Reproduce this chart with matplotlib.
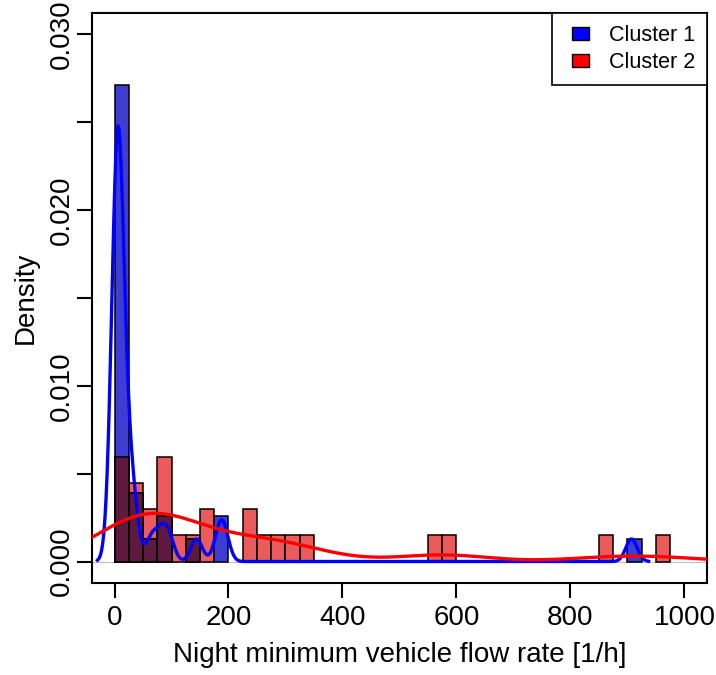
import numpy as np
import matplotlib
matplotlib.use("Agg")
import matplotlib.pyplot as plt
from matplotlib.patches import Patch, Rectangle
from matplotlib.legend_handler import HandlerPatch

plt.rcParams["font.family"] = ["Liberation Sans", "DejaVu Sans"]

# ---- data: night minimum vehicle flow rates [1/h] per cluster ----
cluster1_values = [0, 1, 2, 2, 3, 3, 4, 4, 5, 5, 6, 6, 7, 7, 8, 9, 10, 11, 13, 15, 18,
                   28, 30, 34, 65, 82, 95, 144, 184, 192, 907]
cluster2_values = [5, 10, 15, 20, 30, 38, 45, 58, 68, 78, 85, 90, 95, 110, 138,
                   160, 168, 235, 245, 262, 288, 312, 338, 562, 588, 862, 962]
bin_edges = list(range(0, 1001, 25))
bandwidth_cluster1 = 10.0
bandwidth_cluster2 = 78.0
legend_labels = ["Cluster 1", "Cluster 2"]
x_ticks = [0, 200, 400, 600, 800, 1000]
y_ticks = [0.000, 0.005, 0.010, 0.015, 0.020, 0.025, 0.030]
y_tick_labels = ["0.000", "", "0.010", "", "0.020", "", "0.030"]

# colours
col_blue_bar = "#3d3dd3"
col_red_bar = "#ec5b5b"
col_overlap = "#5e1a3e"


def gaussian_density(values, bw, n=512, cut=3):
    v = np.asarray(values, float)
    grid = np.linspace(v.min() - cut * bw, v.max() + cut * bw, n)
    z = (grid[:, None] - v[None, :]) / bw
    dens = np.exp(-0.5 * z ** 2).sum(axis=1) / (len(v) * bw * np.sqrt(2 * np.pi))
    return grid, dens


h1, _ = np.histogram(cluster1_values, bins=bin_edges, density=True)
h2, _ = np.histogram(cluster2_values, bins=bin_edges, density=True)
lefts = np.array(bin_edges[:-1], float)
width = 25.0
overlap = np.minimum(h1, h2)

fig = plt.figure(figsize=(7.16, 6.75), dpi=100)
ax = fig.add_axes([91.7 / 716, 1 - 582.6 / 675, (707.3 - 91.7) / 716, (582.6 - 13.3) / 675])

ax.axhline(0, color="#bebebe", lw=0.8, zorder=1)

m2 = h2 > 0
ax.bar(lefts[m2], h2[m2], width=width, align="edge", color=col_red_bar,
       edgecolor="black", linewidth=1.1, zorder=2)
m1 = h1 > 0
ax.bar(lefts[m1], h1[m1], width=width, align="edge", color=col_blue_bar,
       edgecolor="black", linewidth=1.1, zorder=3)
mo = overlap > 0
ax.bar(lefts[mo], overlap[mo], width=width, align="edge", color=col_overlap,
       edgecolor="black", linewidth=1.1, zorder=3.5)

gx1, gy1 = gaussian_density(cluster1_values, bandwidth_cluster1)
gx2, gy2 = gaussian_density(cluster2_values, bandwidth_cluster2)
ax.plot(gx1, gy1, color="blue", lw=2.4, zorder=4)
ax.plot(gx2, gy2, color="red", lw=2.4, zorder=5)

ax.set_xlim(-40, 1040)
ax.set_ylim(-0.0012, 0.0312)
ax.set_xticks(x_ticks)
ax.set_xticklabels([str(t) for t in x_ticks])
ax.set_yticks(y_ticks)
ax.set_yticklabels(y_tick_labels)
for lab in ax.get_yticklabels():
    lab.set_rotation(90)
    lab.set_va("center")

ax.tick_params(direction="out", length=11, width=1.5, labelsize=20, colors="black")
ax.tick_params(axis="x", pad=5)
ax.tick_params(axis="y", pad=1)
for s in ax.spines.values():
    s.set_linewidth(1.5)

ax.set_xlabel("Night minimum vehicle flow rate [1/h]", fontsize=20)
ax.set_ylabel("Density", fontsize=20)
ax.xaxis.set_label_coords(0.5, (582.6 - 642) / 569.3)
ax.yaxis.set_label_coords((39 - 91.7) / 615.6, 0.5)


def square_patch(legend, orig_handle, xdescent, ydescent, width, height, fontsize):
    w = width * 0.68
    h = height * 0.87
    return Rectangle((-xdescent + (width - w), -ydescent + (height - h) / 2), w, h)


handles = [Patch(facecolor="blue", edgecolor="black", linewidth=1.0),
           Patch(facecolor="red", edgecolor="black", linewidth=1.0)]
leg = ax.legend(handles, legend_labels, loc="upper right", bbox_to_anchor=(1, 1),
                borderaxespad=0, fancybox=False, framealpha=1, edgecolor="black",
                fontsize=15.5, handlelength=1.16, handleheight=0.7, handletextpad=0.93,
                borderpad=0.56, labelspacing=0.25,
                handler_map={Patch: HandlerPatch(patch_func=square_patch)})
leg.get_frame().set_linewidth(1.2)
leg.set_zorder(10)

fig.savefig("out.png", dpi=100)
